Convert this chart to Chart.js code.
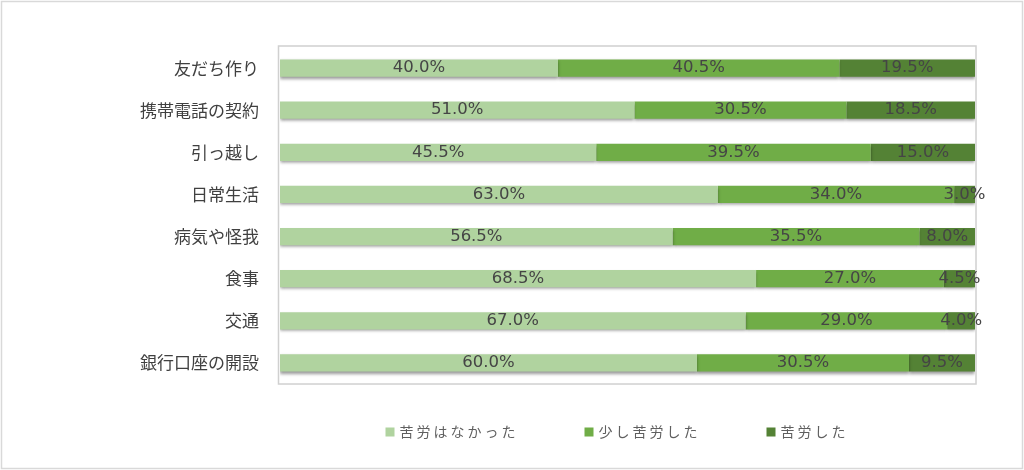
<!DOCTYPE html>
<html lang="ja">
<head>
<meta charset="utf-8">
<script src="https://cdn.jsdelivr.net/npm/chart.js@4"></script>
<style>
  html, body { margin: 0; padding: 0; background: #fff; }
  #wrap { width: 1024px; height: 470px; position: relative; }
</style>
</head>
<body>
<div id="wrap"><canvas id="chart" width="1024" height="470"></canvas></div>
<script>
// Catégories et séries (pourcentages)
const categories = ["友だち作り", "携帯電話の契約", "引っ越し", "日常生活", "病気や怪我", "食事", "交通", "銀行口座の開設"];
const seriesNames = ["苦労はなかった", "少し苦労した", "苦労した"];
const noTrouble = [40.0, 51.0, 45.5, 63.0, 56.5, 68.5, 67.0, 60.0];
const someTrouble = [40.5, 30.5, 39.5, 34.0, 35.5, 27.0, 29.0, 30.5];
const trouble = [19.5, 18.5, 15.0, 3.0, 8.0, 4.5, 4.0, 9.5];
const seriesColors = ["#b0d39f", "#70ad47", "#548235"];

const textColor = "#404040";

// Cadre autour de l'image et de la zone de tracé
const framePlugin = {
  id: "frame",
  beforeDraw(chart) {
    const ctx = chart.ctx;
    const a = chart.chartArea;
    ctx.save();
    ctx.fillStyle = "#fff";
    ctx.fillRect(0, 0, chart.width, chart.height);
    ctx.strokeStyle = "#d9d9d9";
    ctx.lineWidth = 1.5;
    ctx.strokeRect(1.5, 1.5, chart.width - 3, chart.height - 3);
    ctx.strokeStyle = "#d0d0d0";
    ctx.lineWidth = 1.5;
    ctx.strokeRect(a.left - 1.5, a.top - 1, a.right - a.left + 2.5, a.bottom - a.top + 1);
    ctx.restore();
  }
};

// Ombre sous les barres
const shadowPlugin = {
  id: "barShadow",
  beforeDatasetDraw(chart) {
    const ctx = chart.ctx;
    ctx.save();
    ctx.shadowColor = "rgba(0,0,0,0.4)";
    ctx.shadowBlur = 3;
    ctx.shadowOffsetY = 2;
  },
  afterDatasetDraw(chart) {
    chart.ctx.restore();
  }
};

// Étiquettes de valeurs au centre des segments
const labelPlugin = {
  id: "valueLabels",
  afterDatasetsDraw(chart) {
    const ctx = chart.ctx;
    ctx.save();
    ctx.font = "16.5px 'DejaVu Sans'";
    ctx.fillStyle = "#454545";
    ctx.textAlign = "center";
    ctx.textBaseline = "middle";
    chart.data.datasets.forEach((ds, i) => {
      chart.getDatasetMeta(i).data.forEach((bar, j) => {
        const cx = (bar.x + bar.base) / 2;
        ctx.fillText(ds.data[j].toFixed(1) + "%", cx, bar.y);
      });
    });
    ctx.restore();
  }
};

// Légende en bas
const legendPlugin = {
  id: "bottomLegend",
  afterDraw(chart) {
    const ctx = chart.ctx;
    ctx.save();
    ctx.font = "14px 'Noto Sans CJK JP'";
    ctx.letterSpacing = "3px";
    ctx.textBaseline = "middle";
    const box = 9, gap = 5, between = 66;
    const widths = chart.data.datasets.map(ds => ctx.measureText(ds.label).width);
    let total = widths.reduce((s, w) => s + box + gap + w, 0) + between * (widths.length - 1);
    let x = 617 - total / 2;
    const y = 432;
    chart.data.datasets.forEach((ds, i) => {
      ctx.fillStyle = ds.backgroundColor;
      ctx.fillRect(x, y - box / 2, box, box);
      ctx.fillStyle = "#5f5f5f";
      ctx.fillText(ds.label, x + box + gap, y);
      x += box + gap + widths[i] + between;
    });
    ctx.restore();
  }
};

const ctx = document.getElementById("chart").getContext("2d");
const chart = new Chart(ctx, {
  type: "bar",
  data: {
    labels: categories,
    datasets: [
      { label: seriesNames[0], data: noTrouble, backgroundColor: seriesColors[0] },
      { label: seriesNames[1], data: someTrouble, backgroundColor: seriesColors[1] },
      { label: seriesNames[2], data: trouble, backgroundColor: seriesColors[2] },
    ],
  },
  options: {
    responsive: false,
    animation: false,
    indexAxis: "y",
    layout: { padding: { left: 0, right: 49, top: 47, bottom: 86 } },
    datasets: {
      bar: { categoryPercentage: 1, barPercentage: 0.41, borderWidth: 0 }
    },
    plugins: {
      legend: { display: false },
      tooltip: { enabled: false },
    },
    scales: {
      x: {
        stacked: true,
        min: 0,
        max: 100,
        display: false,
      },
      y: {
        stacked: true,
        grid: { display: false },
        border: { display: false },
        ticks: {
          color: textColor,
          font: { family: "'Noto Sans CJK JP'", size: 17 },
          padding: 13,
        },
        afterFit(scale) {
          scale.width = 280;
        },
      },
    },
  },
  plugins: [framePlugin, shadowPlugin, labelPlugin, legendPlugin],
});
</script>
</body>
</html>
